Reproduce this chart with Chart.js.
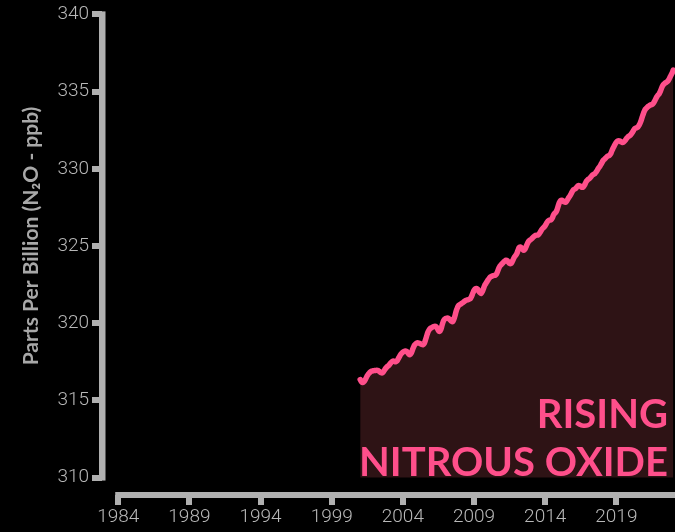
<!DOCTYPE html>
<html>
<head>
<meta charset="utf-8">
<script src="https://cdn.jsdelivr.net/npm/chart.js@4.4.1/dist/chart.umd.min.js"></script>
<style>
  html, body { margin: 0; padding: 0; background: #000; }
  #wrap { width: 675px; height: 532px; }
</style>
</head>
<body>
<div id="wrap"><canvas id="n2oChart"></canvas></div>
<script>
// Global monthly N2O (ppb), one row per year, Jan..Dec
var startYear = 2001;
var ppb2001 = [316.35, 316.22, 316.15, 316.2, 316.3, 316.45, 316.6, 316.72, 316.8, 316.87, 316.9, 316.92];
var ppb2002 = [316.93, 316.94, 316.95, 316.93, 316.88, 316.82, 316.78, 316.8, 316.9, 317.02, 317.12, 317.2];
var ppb2003 = [317.26, 317.35, 317.45, 317.52, 317.55, 317.52, 317.5, 317.55, 317.68, 317.82, 317.95, 318.05];
var ppb2004 = [318.12, 318.17, 318.2, 318.18, 318.1, 318.0, 317.96, 318.05, 318.25, 318.45, 318.6, 318.68];
var ppb2005 = [318.72, 318.72, 318.7, 318.66, 318.62, 318.6, 318.68, 318.9, 319.15, 319.4, 319.55, 319.65];
var ppb2006 = [319.7, 319.74, 319.78, 319.8, 319.78, 319.68, 319.52, 319.47, 319.6, 319.85, 320.1, 320.25];
var ppb2007 = [320.3, 320.33, 320.33, 320.28, 320.2, 320.12, 320.1, 320.25, 320.5, 320.8, 321.0, 321.15];
var ppb2008 = [321.2, 321.25, 321.3, 321.36, 321.42, 321.48, 321.5, 321.52, 321.56, 321.6, 321.75, 321.95];
var ppb2009 = [322.12, 322.22, 322.25, 322.2, 322.08, 321.98, 321.93, 322.05, 322.25, 322.45, 322.57, 322.7];
var ppb2010 = [322.82, 322.93, 323.0, 323.04, 323.07, 323.1, 323.11, 323.2, 323.38, 323.58, 323.72, 323.8];
var ppb2011 = [323.88, 323.96, 324.03, 324.08, 324.05, 323.95, 323.87, 323.86, 323.95, 324.12, 324.28, 324.38];
var ppb2012 = [324.5, 324.7, 324.9, 324.94, 324.88, 324.78, 324.72, 324.8, 324.98, 325.15, 325.3, 325.37];
var ppb2013 = [325.42, 325.5, 325.58, 325.64, 325.69, 325.7, 325.72, 325.8, 325.92, 326.05, 326.15, 326.22];
var ppb2014 = [326.32, 326.45, 326.58, 326.65, 326.68, 326.7, 326.82, 327.0, 327.12, 327.19, 327.35, 327.6];
var ppb2015 = [327.82, 327.94, 327.96, 327.92, 327.86, 327.83, 327.9, 328.02, 328.15, 328.26, 328.4, 328.55];
var ppb2016 = [328.65, 328.69, 328.75, 328.85, 328.91, 328.9, 328.85, 328.8, 328.82, 328.92, 329.08, 329.22];
var ppb2017 = [329.3, 329.35, 329.42, 329.52, 329.6, 329.65, 329.7, 329.8, 329.92, 330.05, 330.15, 330.28];
var ppb2018 = [330.42, 330.55, 330.62, 330.7, 330.78, 330.84, 330.86, 330.95, 331.12, 331.3, 331.45, 331.6];
var ppb2019 = [331.72, 331.8, 331.82, 331.8, 331.74, 331.7, 331.72, 331.8, 331.9, 332.0, 332.08, 332.13];
var ppb2020 = [332.2, 332.3, 332.42, 332.55, 332.62, 332.66, 332.7, 332.8, 332.95, 333.15, 333.4, 333.62];
var ppb2021 = [333.8, 333.9, 333.98, 334.05, 334.1, 334.14, 334.16, 334.22, 334.35, 334.5, 334.65, 334.76];
var ppb2022 = [334.85, 335.0, 335.2, 335.38, 335.48, 335.55, 335.6, 335.65, 335.75, 335.9, 336.05, 336.2];
var ppb2023 = [336.4];

var yearRows = [ppb2001, ppb2002, ppb2003, ppb2004, ppb2005, ppb2006, ppb2007, ppb2008,
    ppb2009, ppb2010, ppb2011, ppb2012, ppb2013, ppb2014, ppb2015, ppb2016,
    ppb2017, ppb2018, ppb2019, ppb2020, ppb2021, ppb2022, ppb2023];

var xTicks = [1984, 1989, 1994, 1999, 2004, 2009, 2014, 2019];
var yTicks = [310, 315, 320, 325, 330, 335, 340];

var axisGray = '#b0b0b0';
var labelGray = '#b8b8b8';
var pink = '#ff4f8b';

// monthly points as x = decimal year
var points = [];
yearRows.forEach(function (row, i) {
    row.forEach(function (v, m) {
        points.push({ x: startYear + i + m / 12, y: v });
    });
});

// axis lines + annotation text
var decorPlugin = {
    id: 'decor',
    afterDatasetsDraw: function (chart) {
        var ctx = chart.ctx;
        ctx.save();
        ctx.fillStyle = pink;
        ctx.font = 'bold 40px Lato, "DejaVu Sans", sans-serif';
        ctx.textAlign = 'right';
        ctx.textBaseline = 'alphabetic';
        ctx.fillText('RISING', 668, 428);
        ctx.fillText('NITROUS OXIDE', 668, 476);
        ctx.restore();
    },
    afterDraw: function (chart) {
        var ctx = chart.ctx;
        var xs = chart.scales.x, ys = chart.scales.y;
        var area = chart.chartArea;
        ctx.save();
        ctx.fillStyle = axisGray;
        // y axis: 310 .. 340
        var yTop = ys.getPixelForValue(340), yBot = ys.getPixelForValue(310);
        ctx.fillRect(area.left - 3, yTop - 3, 6.5, yBot - yTop + 6);
        // x axis: from 1984 to the edge
        var xLeft = xs.getPixelForValue(1984);
        ctx.fillRect(xLeft - 3, area.bottom - 3, chart.width - xLeft + 3, 6);

        // y title
        ctx.translate(31, 236);
        ctx.rotate(-Math.PI / 2);
        ctx.fillStyle = '#a8a8a8';
        ctx.font = 'bold 21px Lato, "DejaVu Sans", sans-serif';
        ctx.textAlign = 'center';
        ctx.textBaseline = 'middle';
        ctx.fillText('Parts Per Billion (N\u2082O - ppb)', 0, 0);
        ctx.restore();
    }
};

var ctx = document.getElementById('n2oChart').getContext('2d');
var n2oChart = new Chart(ctx, {
    type: 'line',
    data: {
        datasets: [{
            label: 'N2O (ppb)',
            data: points,
            borderColor: pink,
            borderWidth: 5.5,
            backgroundColor: '#2e1315',
            fill: { value: 310 },
            pointRadius: 0,
            tension: 0.4,
            borderCapStyle: 'round',
            borderJoinStyle: 'round'
        }]
    },
    options: {
        responsive: true,
        maintainAspectRatio: false,
        animation: false,
        layout: { padding: { top: 12, right: 0, bottom: 0, left: 0 } },
        plugins: {
            legend: { display: false },
            tooltip: { enabled: false }
        },
        scales: {
            x: {
                type: 'linear',
                min: 1982.86,
                max: 2023.12,
                afterBuildTicks: function (s) {
                    s.ticks = xTicks.map(function (v) { return { value: v }; });
                },
                afterFit: function (s) { s.height = 37; },
                ticks: {
                    color: labelGray,
                    font: { family: 'Roboto, Lato, sans-serif', size: 19, weight: 300 },
                    padding: 1,
                    autoSkip: false,
                    maxRotation: 0,
                    callback: function (v) { return String(v); }
                },
                grid: {
                    drawOnChartArea: false,
                    drawTicks: true,
                    tickLength: 10,
                    tickWidth: 6,
                    lineWidth: 6,
                    color: axisGray
                },
                border: { display: false }
            },
            y: {
                min: 308.87,
                max: 340,
                afterBuildTicks: function (s) {
                    s.ticks = yTicks.map(function (v) { return { value: v }; });
                },
                afterFit: function (s) { s.width = 102; },
                ticks: {
                    color: labelGray,
                    font: { family: 'Roboto, Lato, sans-serif', size: 19, weight: 300 },
                    padding: 3,
                    callback: function (v) { return String(v); }
                },
                grid: {
                    drawOnChartArea: false,
                    drawTicks: true,
                    tickLength: 10,
                    tickWidth: 6,
                    lineWidth: 6,
                    color: axisGray
                },
                border: { display: false }
            }
        }
    },
    plugins: [decorPlugin]
});
</script>
</body>
</html>
